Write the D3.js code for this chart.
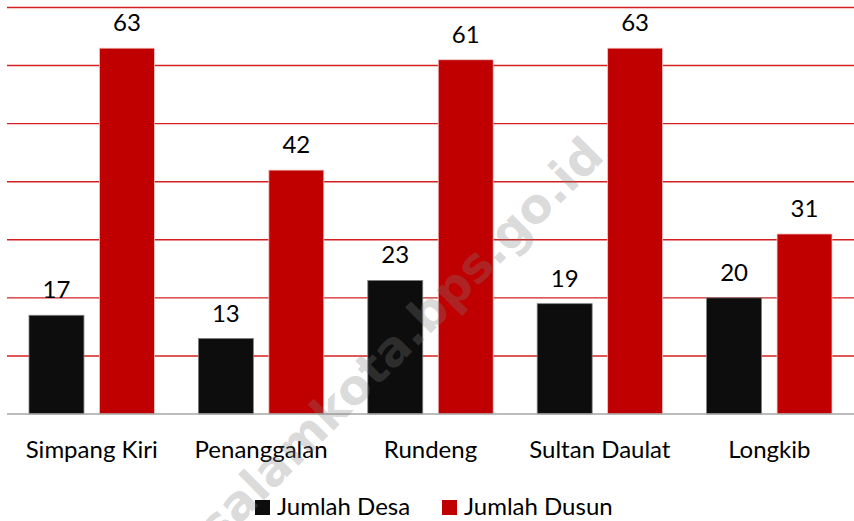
<!DOCTYPE html>
<html>
<head>
<meta charset="utf-8">
<script src="https://cdn.jsdelivr.net/npm/d3@7"></script>
<style>
  body { margin: 0; background: #fff; }
  svg { display: block; font-family: Lato, "Open Sans", sans-serif; }
</style>
</head>
<body>
<svg id="chart" width="854" height="521"></svg>
<script>
// Data
const categories = ["Simpang Kiri", "Penanggalan", "Rundeng", "Sultan Daulat", "Longkib"];
const seriesNames = ["Jumlah Desa", "Jumlah Dusun"];
const desa = [17, 13, 23, 19, 20];
const dusun = [63, 42, 61, 63, 31];
const yTicks = [0, 10, 20, 30, 40, 50, 60, 70];

const colors = ["#0d0d0d", "#c00000"];
const strokes = ["#7f7f7f", "#f2c4c4"];

const svg = d3.select("#chart");

const plotLeft = 7, plotRight = 854, plotTop = 7.5, plotBottom = 414;

const x0 = d3.scaleBand().domain(categories).range([plotLeft, plotRight]);
const x1 = d3.scaleBand().domain(seriesNames).range([22, x0.bandwidth() - 22]).paddingInner(0.22);
const y = d3.scaleLinear().domain([0, 70]).range([plotBottom, plotTop]);

// Gridlines
svg.append("g")
  .selectAll("line")
  .data(yTicks.filter((d) => d > 0))
  .enter()
  .append("line")
  .attr("x1", plotLeft)
  .attr("x2", plotRight)
  .attr("y1", (d) => y(d))
  .attr("y2", (d) => y(d))
  .attr("stroke", "#d42020")
  .attr("stroke-width", 1.4);

const rows = categories.map((c, i) => ({ cat: c, values: [desa[i], dusun[i]] }));

const groups = svg.append("g")
  .selectAll("g")
  .data(rows)
  .enter()
  .append("g")
  .attr("transform", (d) => `translate(${x0(d.cat)},0)`);

groups.selectAll("rect")
  .data((d) => d.values.map((v, j) => ({ name: seriesNames[j], v, j })))
  .enter()
  .append("rect")
  .attr("x", (d) => x1(d.name))
  .attr("width", x1.bandwidth())
  .attr("y", (d) => y(d.v))
  .attr("height", (d) => y(0) - y(d.v))
  .attr("fill", (d) => colors[d.j])
  .attr("stroke", (d) => strokes[d.j])
  .attr("stroke-width", 0.8);

groups.selectAll("text")
  .data((d) => d.values.map((v, j) => ({ name: seriesNames[j], v, j })))
  .enter()
  .append("text")
  .attr("x", (d) => x1(d.name) + x1.bandwidth() / 2)
  .attr("y", (d) => y(d.v) - 17)
  .attr("text-anchor", "middle")
  .attr("font-size", 24)
  .attr("fill", "#000")
  .text((d) => d.v);

// Baseline
svg.append("line")
  .attr("x1", plotLeft)
  .attr("x2", plotRight)
  .attr("y1", y(0))
  .attr("y2", y(0))
  .attr("stroke", "#a6a6a6")
  .attr("stroke-width", 1.5);

// Category labels
svg.append("g")
  .selectAll("text")
  .data(categories)
  .enter()
  .append("text")
  .attr("x", (d) => x0(d) + x0.bandwidth() / 2)
  .attr("y", 458)
  .attr("text-anchor", "middle")
  .attr("font-size", 24)
  .attr("fill", "#000")
  .text((d) => d);

// Legend
const legendX = [255, 442];
const legend = svg.append("g")
  .selectAll("g")
  .data(seriesNames)
  .enter()
  .append("g")
  .attr("transform", (d, i) => `translate(${legendX[i]},0)`);

legend.append("rect")
  .attr("x", 0)
  .attr("y", 500)
  .attr("width", 15)
  .attr("height", 15)
  .attr("fill", (d, i) => colors[i]);

legend.append("text")
  .attr("x", 22)
  .attr("y", 515)
  .attr("font-size", 24)
  .attr("fill", "#000")
  .text((d) => d);

// Watermark
svg.append("text")
  .attr("transform", "translate(606,158) rotate(-45)")
  .attr("text-anchor", "end")
  .attr("font-family", "'DejaVu Sans', sans-serif")
  .attr("font-size", 48)
  .attr("font-weight", "bold")
  .attr("fill", "#808080")
  .attr("fill-opacity", 0.3)
  .text("subulussalamkota.bps.go.id");
</script>
</body>
</html>
